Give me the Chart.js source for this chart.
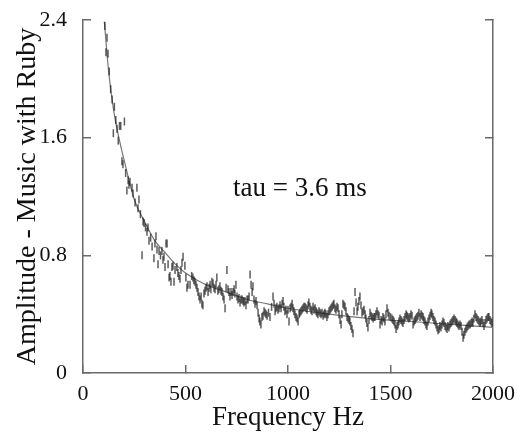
<!DOCTYPE html>
<html>
<head>
<meta charset="utf-8">
<script src="https://cdn.jsdelivr.net/npm/chart.js@4/dist/chart.umd.min.js"></script>
<style>
html,body{margin:0;padding:0;background:#fff;}
#wrap{width:517px;height:436px;}
</style>
</head>
<body>
<div id="wrap"><canvas id="c" width="517" height="436"></canvas></div>
<script>
// ---- data ----
const measFreq = [107,112,117,122,128,135,142,148,153,160,166,172,178,184,190,195,202,208,214,220,224,229,239,244,254,263,268,273,280,288,293,298,305,312,317,322,330,337,346,351,356,361,366,371,378,385,390,395,400,405,410,415,420,424,429,434,439,444,449,458,463,468,473,478,483,488,497,502,507,512,522,530,536,541,546,551,556,561,566,571,576,580,585,590,595,600,605,610,615,620,624,629,634,639,644,649,653,658,663,668,673,678,683,688,693,698,702,707,712,717,722,727,732,737,741,746,751,756,761,766,771,776,781,785,790,795,800,805,810,815,820,825,829,834,839,844,849,854,859,863,868,873,878,883,888,893,898,905,912,920,927,932,937,941,946,951,956,961,966,971,976,980,985,990,995,1000,1005,1010,1015,1020,1024,1029,1034,1039,1044,1049,1054,1058,1063,1068,1073,1078,1083,1088,1093,1098,1102,1107,1112,1117,1122,1127,1132,1137,1141,1146,1151,1156,1161,1166,1171,1176,1180,1185,1190,1195,1200,1205,1210,1215,1220,1224,1229,1234,1239,1244,1249,1254,1259,1263,1268,1273,1278,1283,1288,1293,1298,1302,1307,1312,1317,1322,1327,1332,1337,1341,1346,1351,1356,1361,1366,1371,1376,1380,1385,1390,1395,1400,1405,1410,1415,1420,1424,1429,1434,1439,1444,1449,1454,1459,1463,1468,1473,1478,1483,1488,1493,1500,1507,1512,1517,1522,1527,1532,1537,1541,1546,1551,1556,1561,1566,1571,1576,1580,1585,1590,1595,1600,1605,1610,1615,1620,1624,1629,1634,1639,1644,1649,1654,1659,1663,1668,1673,1678,1683,1688,1693,1698,1702,1707,1712,1717,1722,1727,1732,1737,1741,1746,1751,1756,1761,1766,1771,1776,1780,1785,1790,1795,1800,1805,1810,1815,1820,1824,1829,1834,1839,1844,1849,1854,1858,1863,1868,1873,1878,1883,1888,1893,1898,1902,1907,1912,1917,1922,1927,1932,1937,1941,1946,1951,1956,1961,1966,1971,1976,1980,1985,1990,1995];
const measAmp = [2.36,2.18,2.28,2.17,2.05,1.93,1.86,1.63,1.81,1.72,1.66,1.58,1.68,1.68,1.44,1.42,1.71,1.36,1.24,1.31,1.28,1.30,1.26,1.22,1.16,1.26,1.12,1.18,1.08,0.80,1.03,1.02,0.99,0.96,0.99,0.90,0.92,0.86,0.78,0.88,0.93,0.84,0.74,0.83,0.80,0.83,0.77,0.79,0.72,0.88,0.88,0.74,0.65,0.66,0.62,0.72,0.73,0.62,0.70,0.72,0.68,0.66,0.64,0.70,0.75,0.79,0.73,0.65,0.58,0.60,0.60,0.66,0.65,0.63,0.62,0.60,0.58,0.55,0.52,0.50,0.52,0.47,0.46,0.54,0.56,0.58,0.59,0.55,0.58,0.60,0.57,0.62,0.61,0.58,0.57,0.60,0.65,0.56,0.57,0.59,0.56,0.55,0.52,0.50,0.44,0.58,0.70,0.57,0.55,0.52,0.55,0.53,0.55,0.57,0.54,0.60,0.52,0.50,0.51,0.48,0.50,0.50,0.49,0.48,0.49,0.46,0.50,0.50,0.52,0.67,0.60,0.55,0.59,0.50,0.47,0.49,0.46,0.41,0.37,0.35,0.33,0.38,0.39,0.42,0.41,0.40,0.39,0.41,0.38,0.45,0.52,0.47,0.42,0.44,0.45,0.43,0.44,0.46,0.44,0.47,0.49,0.45,0.42,0.43,0.40,0.43,0.35,0.44,0.45,0.47,0.44,0.42,0.40,0.38,0.37,0.35,0.40,0.41,0.42,0.43,0.44,0.45,0.45,0.44,0.43,0.46,0.48,0.45,0.43,0.42,0.45,0.43,0.44,0.42,0.41,0.40,0.42,0.41,0.40,0.41,0.39,0.40,0.41,0.40,0.38,0.40,0.42,0.43,0.44,0.45,0.46,0.47,0.44,0.43,0.45,0.44,0.40,0.36,0.33,0.40,0.47,0.46,0.45,0.42,0.38,0.37,0.36,0.35,0.32,0.30,0.27,0.42,0.55,0.48,0.42,0.45,0.49,0.52,0.46,0.41,0.42,0.43,0.40,0.37,0.34,0.31,0.36,0.41,0.39,0.38,0.37,0.38,0.38,0.40,0.42,0.40,0.39,0.33,0.36,0.35,0.38,0.37,0.35,0.40,0.44,0.41,0.39,0.38,0.37,0.36,0.35,0.33,0.30,0.32,0.33,0.35,0.37,0.36,0.35,0.34,0.36,0.38,0.40,0.39,0.38,0.37,0.38,0.40,0.39,0.33,0.35,0.36,0.37,0.38,0.39,0.41,0.38,0.40,0.39,0.38,0.36,0.35,0.33,0.32,0.35,0.37,0.39,0.41,0.40,0.38,0.36,0.35,0.33,0.31,0.29,0.30,0.32,0.31,0.33,0.35,0.34,0.32,0.31,0.30,0.32,0.31,0.33,0.34,0.35,0.36,0.37,0.36,0.35,0.34,0.33,0.32,0.33,0.32,0.28,0.24,0.26,0.28,0.30,0.31,0.32,0.33,0.33,0.34,0.35,0.34,0.37,0.40,0.38,0.37,0.36,0.35,0.34,0.35,0.36,0.34,0.32,0.34,0.36,0.37,0.38,0.38,0.36,0.35,0.34];

const fitFreq = [104,125,150,175,200,250,300,350,400,450,500,600,700,800,900,1000,1200,1400,1600,1800,2000];
const fitAmp  = [2.39,2.05,1.78,1.60,1.45,1.18,1.03,0.90,0.82,0.74,0.68,0.60,0.55,0.50,0.47,0.44,0.40,0.37,0.35,0.33,0.31];

const xTickValues = [0,500,1000,1500,2000];
const xTickLabels = ['0','500','1000','1500','2000'];
const yTickValues = [0,0.8,1.6,2.4];
const yTickLabels = ['0','0.8','1.6','2.4'];
const xTitle = 'Frequency Hz';
const yTitle = 'Amplitude - Music with Ruby';
const annotText = 'tau = 3.6 ms';
const annotAt = {x: 1058, y: 1.254};

// ---- chart ----
const serif = "'Liberation Serif', 'Times New Roman', serif";
const axisColor = '#6a6a6a';

const measPoints = measFreq.map((f,i)=>({x:f, y:measAmp[i]}));
const fitPoints = fitFreq.map((f,i)=>({x:f, y:fitAmp[i]}));

const annotPlugin = {
  id: 'annot',
  afterDatasetsDraw(chart){
    const {ctx, scales} = chart;
    ctx.save();
    ctx.font = "27px " + serif;
    ctx.fillStyle = '#111';
    ctx.textAlign = 'center';
    ctx.textBaseline = 'middle';
    ctx.fillText(annotText, scales.x.getPixelForValue(annotAt.x), scales.y.getPixelForValue(annotAt.y));
    ctx.restore();
  }
};

function setTicks(values){
  return function(scale){ scale.ticks = values.map(v=>({value:v})); };
}
function labelFor(values, labels){
  return function(v){ const i = values.findIndex(t=>Math.abs(t-v)<1e-9); return i>=0 ? labels[i] : ''; };
}

new Chart(document.getElementById('c'), {
  data: {
    datasets: [
      {
        type: 'line',
        data: fitPoints,
        borderColor: '#777',
        borderWidth: 1.2,
        pointRadius: 0,
        fill: false,
        cubicInterpolationMode: 'monotone',
        order: 2
      },
      {
        type: 'scatter',
        data: measPoints,
        pointStyle: 'line',
        rotation: 90,
        pointRadius: 4,
        borderColor: 'rgba(30,30,30,0.72)',
        borderWidth: 1.5,
        order: 1
      }
    ]
  },
  options: {
    responsive: false,
    animation: false,
    devicePixelRatio: 1,
    layout: {padding: {top: 20, left: 0, right: 0, bottom: 0}},
    plugins: {legend: {display: false}, tooltip: {enabled: false}},
    scales: {
      x: {
        type: 'linear', position: 'bottom', min: 0, max: 2000,
        afterBuildTicks: setTicks(xTickValues),
        afterFit(s){ s.height = 63; s.paddingLeft = 0; s.paddingRight = 0; },
        grid: {drawOnChartArea: false, drawTicks: true, tickLength: -8, color: axisColor, lineWidth: 1.5},
        border: {display: true, color: axisColor, width: 1.5},
        ticks: {padding: 16, color: '#111', font: {family: serif, size: 22}, maxRotation: 0, callback: labelFor(xTickValues, xTickLabels)},
        title: {display: true, text: xTitle, color: '#111', font: {family: serif, size: 27}, padding: {top: 0, bottom: 2}}
      },
      y: {
        type: 'linear', position: 'left', min: 0, max: 2.4,
        afterBuildTicks: setTicks(yTickValues),
        afterFit(s){ s.width = 83; s.paddingTop = 0; s.paddingBottom = 0; },
        grid: {drawOnChartArea: false, drawTicks: true, tickLength: -8, color: axisColor, lineWidth: 1.5},
        border: {display: true, color: axisColor, width: 1.5},
        ticks: {padding: 24, color: '#111', font: {family: serif, size: 22}, callback: labelFor(yTickValues, yTickLabels)},
        title: {display: true, text: yTitle, color: '#111', font: {family: serif, size: 28}, padding: {top: 11, bottom: 0}}
      },
      y2: {
        type: 'linear', position: 'right', min: 0, max: 2.4,
        afterBuildTicks: setTicks(yTickValues),
        afterFit(s){ s.width = 24; s.paddingTop = 0; s.paddingBottom = 0; },
        grid: {drawOnChartArea: false, drawTicks: true, tickLength: -8, color: axisColor, lineWidth: 1.5},
        border: {display: true, color: axisColor, width: 1.5},
        ticks: {display: false}
      }
    }
  },
  plugins: [annotPlugin]
});
</script>
</body>
</html>
